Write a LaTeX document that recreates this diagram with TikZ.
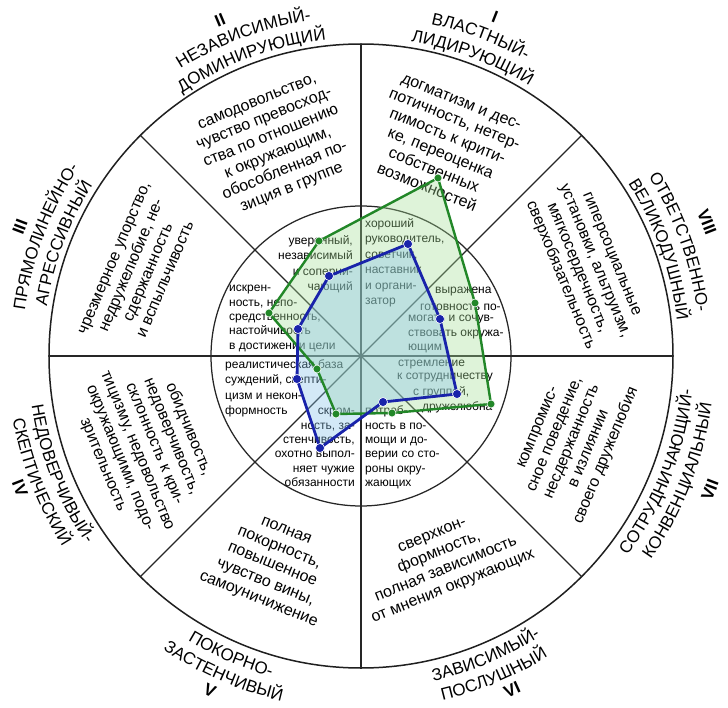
\documentclass[tikz,border=0pt]{standalone}
\usepackage{fontspec}
\setmainfont{Liberation Sans}
\usetikzlibrary{decorations.text}
\newcommand\labfont{\fontsize{17}{17}\selectfont}
% clockwise arc text (upper half, letters' tops outward)
\newcommand\arccw[3]{%
  \pgfmathsetmacro\angA{#1+45}\pgfmathsetmacro\angB{#1-45}%
  \path[decorate, decoration={text along path, text align=center, text={|\labfont|#3}}]
    (\angA:#2) arc[start angle=\angA, end angle=\angB, radius=#2];}
% counter-clockwise arc text (lower half, letters' tops inward)
\newcommand\arcccw[3]{%
  \pgfmathsetmacro\angA{#1-45}\pgfmathsetmacro\angB{#1+45}%
  \path[decorate, decoration={text along path, text align=center, text={|\labfont|#3}}]
    (\angA:#2) arc[start angle=\angA, end angle=\angB, radius=#2];}
\begin{document}
\begin{tikzpicture}[x=1pt,y=1pt,
  ln/.style={line width=1.5pt, draw=black!88},
  thinln/.style={line width=1.25pt, draw=black!85},
  seg/.style={font=\fontsize{16}{18.5}\selectfont, align=center, inner sep=0pt},
  num/.style={font=\bfseries\fontsize{17}{17}\selectfont, inner sep=0pt},
  inn/.style={font=\fontsize{12}{15.5}\selectfont, inner sep=0pt},
  inns/.style={font=\fontsize{12}{14.3}\selectfont, inner sep=0pt},
  gline/.style={line width=2.4pt, draw={rgb,255:red,34;green,135;blue,40}, line join=round},
  bline/.style={line width=2.8pt, draw={rgb,255:red,25;green,35;blue,170}, line join=round},
  gfill/.style={fill={rgb,255:red,165;green,222;blue,150}, fill opacity=0.36},
  bfill/.style={fill={rgb,255:red,135;green,195;blue,235}, fill opacity=0.36},
  gdot/.style={circle, inner sep=0pt, minimum size=8pt, fill={rgb,255:red,34;green,135;blue,40}, draw=white, line width=0.6pt},
  bdot/.style={circle, inner sep=0pt, minimum size=9pt, fill={rgb,255:red,25;green,35;blue,170}, draw=white, line width=0.6pt}]
\fill[white] (-361,-351) rectangle (367,356);
\useasboundingbox (-361,-351) rectangle (367,356);
% frame
\draw[ln] (0,0) circle[radius=312];
\draw[thinln] (0,0) circle[radius=150];
\foreach \a in {0,45,...,315} \draw[thinln] (0,0) -- (\a:312);
% outer segment texts
\node[seg, rotate=-22] (sI) at (83,211) {догматизм и дес-\\потичность, нетер-\\пимость к крити-\\ке, переоценка\\собственных\\возможностей};
\node[seg, rotate=22] (sII) at (-86,210) {самодовольство,\\чувство превосход-\\ства по отношению\\к окружающим,\\обособленная по-\\зиция в группе};
\node[seg, rotate=67] (sIII) at (-221,87) {чрезмерное упорство,\\недружелюбие, не-\\сдержанность\\и вспыльчивость};
\node[seg, rotate=-67.5] (sIV) at (-215,-91) {обидчивость,\\недоверчивость,\\склонность к кри-\\тицизму, недовольство\\окружающими, подо-\\зрительность};
\node[seg, rotate=-22] (sV) at (-89,-210) {полная\\покорность,\\повышенное\\чувство вины,\\самоуничижение};
\node[seg, rotate=22] (sVI) at (82,-206) {сверхкон-\\формность,\\полная зависимость\\от мнения окружающих};
\node[seg, rotate=67.5] (sVII) at (212,-86) {компромис-\\сное поведение,\\несдержанность\\в излиянии\\своего дружелюбия};
\node[seg, rotate=-67.5] (sVIII) at (224,91) {гиперсоциальные\\установки, альтруизм,\\мягкосердечность,\\сверхобязательность};
% outer curved labels
\arccw{69.5}{318}{ЛИДИРУЮЩИЙ}
\arccw{69.5}{339}{ВЛАСТНЫЙ-}
\arccw{110.3}{318}{ДОМИНИРУЮЩИЙ}
\arccw{110.3}{339}{НЕЗАВИСИМЫЙ-}
\arccw{159.3}{318}{АГРЕССИВНЫЙ}
\arccw{159.3}{339}{ПРЯМОЛИНЕЙНО-}
\arccw{19.7}{318}{ВЕЛИКОДУШНЫЙ}
\arccw{19.7}{339}{ОТВЕТСТВЕННО-}
\arcccw{201.4}{333}{НЕДОВЕРЧИВЫЙ-}
\arcccw{201.4}{354}{СКЕПТИЧЕСКИЙ}
\arcccw{246.5}{333}{ПОКОРНО-}
\arcccw{246.5}{354}{ЗАСТЕНЧИВЫЙ}
\arcccw{292.6}{333}{ЗАВИСИМЫЙ-}
\arcccw{292.6}{354}{ПОСЛУШНЫЙ}
\arcccw{338.6}{333}{СОТРУДНИЧАЮЩИЙ-}
\arcccw{338.6}{354}{КОНВЕНЦИАЛЬНЫЙ}
% numerals
\node[num, rotate=-21.6] (nI) at (134,339) {I};
\node[num, rotate=22.8] (nII) at (-141,336) {II};
\node[num, rotate=69.3] (nIII) at (-341,129) {III};
\node[num, rotate=-68.8] (nIV) at (-341,-132) {IV};
\node[num, rotate=-24.3] (nV) at (-151,-334) {V};
\node[num, rotate=24.3] (nVI) at (151,-334) {VI};
\node[num, rotate=69] (nVII) at (349,-134) {VII};
\node[num, rotate=-68.8] (nVIII) at (346,134) {VIII};
% inner texts
\node[inn, align=left, anchor=west] (iI) at (4,93) {хороший\\руководитель,\\советчик,\\наставник\\и органи-\\затор};
\node[inn, align=right, anchor=east] (iII) at (-8,92) {уверенный,\\независимый\\и соперни-\\чающий};
\node[inns, align=left, anchor=west] (iIII) at (-132,37.5) {искрен-\\ность, непо-\\средственность,\\настойчивость\\в достижении цели};
\node[inn, align=left, anchor=west] (iIV) at (-136,-32.5) {реалистическая база\\суждений, скепти-\\цизм и некон-\\формность};
\node[inns, align=right, anchor=east] (iV) at (-6,-91.5) {скром-\\ность, за-\\стенчивость,\\охотно выпол-\\няет чужие\\обязанности};
\node[inns, align=left, anchor=west] (iVI) at (4,-91.5) {потреб-\\ность в по-\\мощи и до-\\верии со сто-\\роны окру-\\жающих};
\node[inn, anchor=west] (iVIIa) at (37,-9) {стремление};
\node[inn, anchor=west] (iVIIb) at (36,-22) {к сотрудничеству};
\node[inn, anchor=west] (iVIIc) at (52,-36) {с группой,};
\node[inn, anchor=west] (iVIId) at (61,-51) {дружелюбна};
\node[inn, anchor=west] (iVIIIa) at (74,64) {выражена};
\node[inn, anchor=west] (iVIIIb) at (59,49) {готовность по-};
\node[inn, anchor=west] (iVIIIc) at (47,36) {могать и сочув-};
\node[inn, anchor=west] (iVIIId) at (47,21) {ствовать окружа-};
\node[inn, anchor=west] (iVIIIe) at (47,8) {ющим};
% profile polygons
\coordinate (g1) at (-42,115); \coordinate (g2) at (77,178); \coordinate (g3) at (114,53);
\coordinate (g4) at (130,-48); \coordinate (g5) at (31,-57); \coordinate (g6) at (-25,-58);
\coordinate (g7) at (-44,-13); \coordinate (g8) at (-92,43);
\coordinate (b1) at (-32,80); \coordinate (b2) at (47,112); \coordinate (b3) at (79,37);
\coordinate (b4) at (96,-38); \coordinate (b5) at (22,-46); \coordinate (b6) at (-41,-92);
\coordinate (b7) at (-64,-23); \coordinate (b8) at (-63,27);
\fill[gfill] (g1) -- (g2) -- (g3) -- (g4) -- (g5) -- (g6) -- (g7) -- (g8) -- cycle;
\fill[bfill] (b1) -- (b2) -- (b3) -- (b4) -- (b5) -- (b6) -- (b7) -- (b8) -- cycle;
\draw[gline] (g1) -- (g2) -- (g3) -- (g4) -- (g5) -- (g6) -- (g7) -- (g8) -- cycle;
\draw[bline] (b1) -- (b2) -- (b3) -- (b4) -- (b5) -- (b6) -- (b7) -- (b8) -- cycle;
\foreach \i in {1,...,8} \node[gdot] (gd\i) at (g\i) {};
\foreach \i in {1,...,8} \node[bdot] (bd\i) at (b\i) {};
\end{tikzpicture}
\end{document}
